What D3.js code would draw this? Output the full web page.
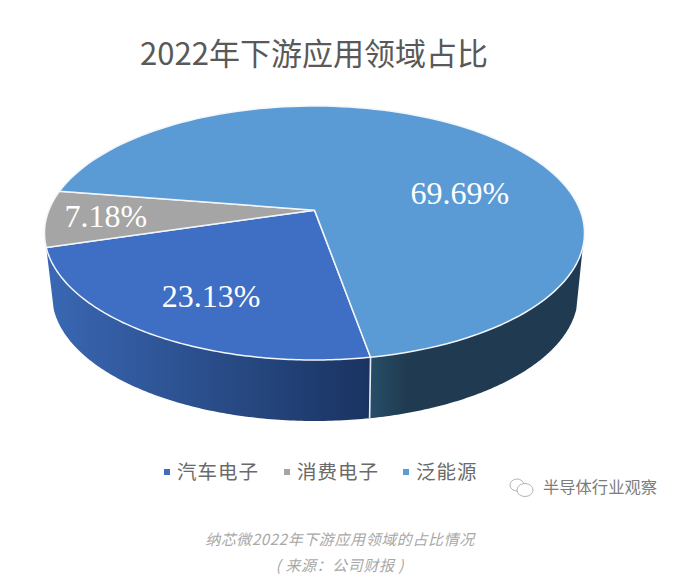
<!DOCTYPE html>
<html lang="zh">
<head>
<meta charset="utf-8">
<script src="https://cdn.jsdelivr.net/npm/d3@7"></script>
<style>
  html, body { margin: 0; padding: 0; background: #fff; }
  svg { display: block; }
  text { font-family: "Noto Sans CJK SC", "Noto Sans", sans-serif; }
</style>
</head>
<body>
<svg id="chart" width="686" height="583"></svg>
<script>
// Downstream application split, 2022
const categories = ["汽车电子", "消费电子", "泛能源"];
const shares = [23.13, 7.18, 69.69];
const topColors = ["#3f6fc4", "#a5a5a5", "#5b9bd5"];
const sideStops = [["#3a68b4", "#1a3361"], ["#6b6b6b", "#6b6b6b"], ["#274e69", "#203b51"]];
const sideStopOffsets = [[0, 1], [0, 1], [0, 0.17]];
const labelRadius = [0.71, 0.78, 0.58];
const labelTurn = [-2.5, 0, 31];
const legendTextX = [177, 297, 416];
const title = "2022年下游应用领域占比";
const captionLines = ["纳芯微2022年下游应用领域的占比情况", "( 来源：公司财报 )"];
const watermark = "半导体行业观察";

const deg = Math.PI / 180;
const svg = d3.select("#chart");
const defs = svg.append("defs");

// Tilt of the disc: how far its hub sits from the middle of the drawn ellipse
const tilt = -0.18;
const topX = d3.scaleLinear([-1, 1], [44.5, 584.5]);
const topY = d3.scaleLinear([-1, 1], [106, 360]);
const baseX = d3.scaleLinear([-1, 1], [52, 578]);
const baseY = d3.scaleLinear([-1, 1], [169, 421]);

// Perspective map from a point on the flat disc to the tilted ellipse
function project(angle, radius) {
  const u = radius * Math.sin(angle);
  const v = -radius * Math.cos(angle);
  const w = 1 + tilt * v;
  return [u * Math.sqrt(1 - tilt * tilt) / w, (v + tilt) / w];
}
const onTop = (a, r = 1) => { const p = project(a, r); return [topX(p[0]), topY(p[1])]; };
const onBase = a => { const p = project(a, 1); return [baseX(p[0]), baseY(p[1])]; };

const line = d3.line();
const sweep = (a, b) => d3.range(0, 121).map(i => a + (b - a) * i / 120);

const slices = d3.pie().sort(null).startAngle(170 * deg).endAngle(530 * deg)(shares);

// Wall gradients
slices.forEach((s, i) => {
  const g = defs.append("linearGradient").attr("id", "wall" + i)
    .attr("x1", 0).attr("x2", 1).attr("y1", 0).attr("y2", 0);
  sideStops[i].forEach((c, k) => g.append("stop").attr("offset", sideStopOffsets[i][k]).attr("stop-color", c));
});

// Visible wall runs from the front-left of the rim round to the front-right
const rightLimit = 106.7 * deg;
const walls = [
  { index: 0, from: slices[0].startAngle, to: slices[0].endAngle },
  { index: 2, from: rightLimit, to: slices[0].startAngle }
];
svg.append("g").selectAll("path").data(walls).join("path")
  .attr("d", d => line([
    ...sweep(d.from, d.to).map(a => onTop(a)),
    ...sweep(d.to, d.from).map(a => onBase(a))
  ]) + "Z")
  .attr("fill", d => `url(#wall${d.index})`);

// Seam between the two walls
const seamAngle = slices[0].startAngle;
svg.append("path")
  .attr("d", line([onTop(seamAngle), onBase(seamAngle)]))
  .attr("stroke", "#e8edf3").attr("stroke-width", 1.6).attr("fill", "none");

// Top face
svg.append("g").selectAll("path").data(slices).join("path")
  .attr("d", d => line([onTop(0, 0), ...sweep(d.startAngle, d.endAngle).map(a => onTop(a))]) + "Z")
  .attr("fill", (d, i) => topColors[i])
  .attr("stroke", "#f2f5f9").attr("stroke-width", 1.5).attr("stroke-linejoin", "round");

// Percentage labels
svg.append("g").selectAll("text").data(slices).join("text")
  .attr("transform", (d, i) => {
    const mid = (d.startAngle + d.endAngle) / 2 + labelTurn[i] * deg;
    return `translate(${onTop(mid, labelRadius[i])})`;
  })
  .attr("text-anchor", "middle").attr("dy", "0.34em")
  .style("font-family", '"Liberation Serif", serif').style("font-size", "32px")
  .attr("fill", "#fff")
  .text(d => d.value.toFixed(2) + "%");

// Title
svg.append("text").attr("x", 314).attr("y", 65).attr("text-anchor", "middle")
  .style("font-size", "31px").attr("fill", "#595959").text(title);

// Legend
const legend = svg.append("g").selectAll("g").data(categories).join("g")
  .attr("transform", (d, i) => `translate(${legendTextX[i]},472)`);
legend.append("rect").attr("x", -13).attr("y", -3).attr("width", 6).attr("height", 6)
  .attr("fill", (d, i) => topColors[i]);
legend.append("text").attr("dy", "0.36em")
  .style("font-size", "19.5px").style("letter-spacing", "1px").attr("fill", "#6a6a6a").text(d => d);

// Channel mark: two overlapping speech bubbles
const mark = svg.append("g").attr("transform", "translate(522,487)")
  .attr("fill", "none").attr("stroke", "#b4b4b4").attr("stroke-width", 1);
mark.append("ellipse").attr("cx", -5).attr("cy", -2).attr("rx", 7).attr("ry", 6);
mark.append("ellipse").attr("cx", 3).attr("cy", 3).attr("rx", 8).attr("ry", 6.5).attr("fill", "#fff");
svg.append("text").attr("x", 543).attr("y", 487).attr("dy", "0.36em")
  .style("font-size", "16.3px").attr("fill", "#7c7c7c").text(watermark);

// Caption
svg.append("g").selectAll("text").data(captionLines).join("text")
  .attr("x", 340).attr("y", (d, i) => 540 + i * 26).attr("dy", "0.36em")
  .attr("text-anchor", "middle")
  .style("font-size", "15px").style("font-style", "italic").style("letter-spacing", "0.6px")
  .attr("fill", "#a8a8a8").text(d => d);
</script>
</body>
</html>
